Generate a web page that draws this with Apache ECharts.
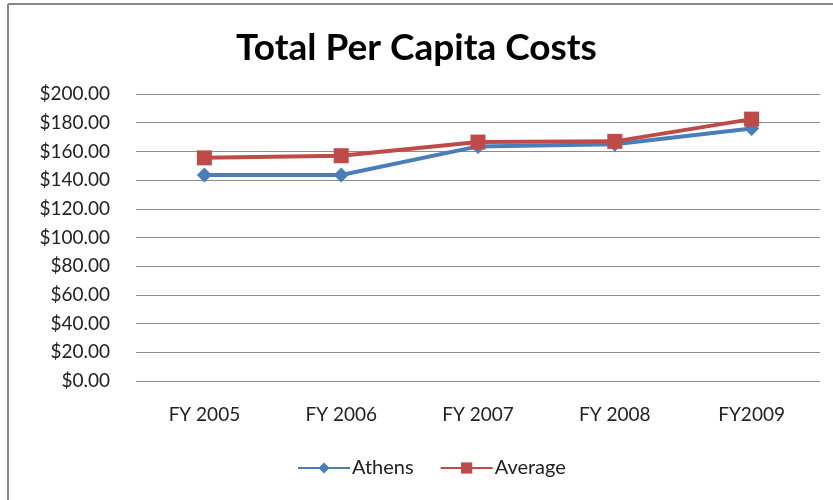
<!DOCTYPE html>
<html>
<head>
<meta charset="utf-8">
<script src="https://cdn.jsdelivr.net/npm/echarts@6/dist/echarts.min.js"></script>
<style>html,body{margin:0;padding:0;background:#fff}#c{width:833px;height:500px}</style>
</head>
<body>
<div id="c"></div>
<script>
const categories = ['FY 2005', 'FY 2006', 'FY 2007', 'FY 2008', 'FY2009'];
const athens = [143.5, 143.5, 163.5, 165, 176];
const average = [155.5, 157, 166.5, 167, 182.5];
const seriesNames = ['Athens', 'Average'];
const titleText = 'Total Per Capita Costs';

const FONT = 'Lato';
const chart = echarts.init(document.getElementById('c'), null, {renderer: 'canvas'});
chart.setOption({
  backgroundColor: '#fff',
  animation: false,
  title: {
    text: titleText, left: 'center', top: 25,
    textStyle: {fontFamily: FONT, fontSize: 37, fontWeight: 'bold', color: '#000'}
  },
  legend: {
    bottom: 17, left: 292, itemGap: 26, itemWidth: 52, itemHeight: 14,
    textStyle: {fontFamily: FONT, fontSize: 20, color: '#222', padding: [0, 0, 0, -3]},
    data: seriesNames
  },
  grid: {left: 136, right: 13, top: 94, bottom: 119, containLabel: false},
  xAxis: {
    type: 'category', data: categories, boundaryGap: true,
    axisLine: {show: false}, axisTick: {show: false},
    axisLabel: {fontFamily: FONT, fontSize: 19, color: '#222', margin: 24}
  },
  yAxis: {
    type: 'value', min: 0, max: 200, interval: 20,
    axisLine: {show: false}, axisTick: {show: false},
    axisLabel: {fontFamily: FONT, fontSize: 19, color: '#222', margin: 26,
      formatter: v => '$' + v.toFixed(2)},
    splitLine: {lineStyle: {color: '#8c8c8c', width: 1}}
  },
  series: [
    {name: seriesNames[0], type: 'line', data: athens, symbol: 'diamond', symbolSize: 15,
     lineStyle: {color: '#4a7ebb', width: 4}, itemStyle: {color: '#4a7ebb'}, z: 2},
    {name: seriesNames[1], type: 'line', data: average, symbol: 'rect', symbolSize: 15,
     lineStyle: {color: '#be4b48', width: 4}, itemStyle: {color: '#be4b48'}, z: 3}
  ],
  graphic: [
    {type: 'line', shape: {x1: 8, y1: 4, x2: 833, y2: 4}, style: {stroke: '#888', lineWidth: 2}},
    {type: 'line', shape: {x1: 8, y1: 4, x2: 8, y2: 500}, style: {stroke: '#888', lineWidth: 2}}
  ]
});
</script>
</body>
</html>
